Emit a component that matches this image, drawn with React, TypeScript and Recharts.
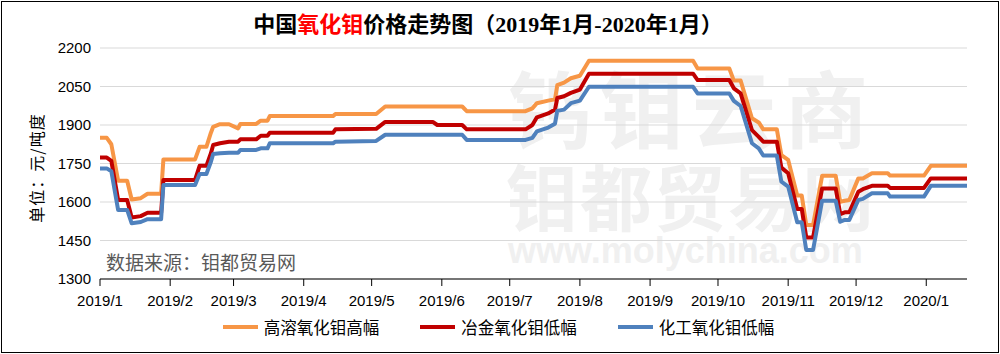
import React from "react";
import { LineChart, Line, XAxis, YAxis, CartesianGrid } from "recharts";

// change points (daily prices, yuan / ton-degree)
const dates = [
  "2019-01-01", "2019-01-04", "2019-01-06", "2019-01-09", "2019-01-13", "2019-01-15",
  "2019-01-19", "2019-01-22", "2019-01-28", "2019-01-29", "2019-02-12", "2019-02-14",
  "2019-02-17", "2019-02-19", "2019-02-20", "2019-02-23", "2019-02-27", "2019-03-03",
  "2019-03-04", "2019-03-11", "2019-03-13", "2019-03-16", "2019-03-17", "2019-04-14",
  "2019-04-15", "2019-05-03", "2019-05-07", "2019-05-28", "2019-05-30", "2019-06-10",
  "2019-06-12", "2019-07-08", "2019-07-11", "2019-07-13", "2019-07-18", "2019-07-21",
  "2019-07-22", "2019-07-25", "2019-07-28", "2019-08-01", "2019-08-05", "2019-09-20",
  "2019-09-22", "2019-10-06", "2019-10-08", "2019-10-11", "2019-10-16", "2019-10-19",
  "2019-10-21", "2019-10-27", "2019-10-29", "2019-11-01", "2019-11-05", "2019-11-07",
  "2019-11-09", "2019-11-12", "2019-11-16", "2019-11-22", "2019-11-24", "2019-11-26",
  "2019-11-28", "2019-12-02", "2019-12-04", "2019-12-08", "2019-12-15", "2019-12-16",
  "2019-12-31", "2020-01-03", "2020-01-19",
];

const highSol = [
  1850, 1850, 1825, 1683, 1683, 1610, 1615, 1632, 1632, 1766, 1766, 1815,
  1815, 1870, 1893, 1903, 1903, 1887, 1904, 1904, 1917, 1917, 1935, 1935,
  1943, 1943, 1972, 1972, 1972, 1972, 1954, 1954, 1965, 1985, 1995, 2000,
  2055, 2065, 2082, 2092, 2150, 2150, 2120, 2120, 2073, 2073, 1926, 1910,
  1883, 1883, 1783, 1764, 1625, 1625, 1510, 1510, 1702, 1702, 1601, 1605,
  1608, 1692, 1692, 1712, 1712, 1703, 1703, 1741, 1741,
];

const metallurgical = [
  1773, 1773, 1760, 1608, 1608, 1540, 1545, 1558, 1558, 1686, 1686, 1741,
  1741, 1790, 1822, 1829, 1835, 1835, 1844, 1844, 1858, 1858, 1870, 1870,
  1883, 1885, 1912, 1912, 1900, 1900, 1883, 1883, 1900, 1930, 1945, 1960,
  2005, 2012, 2025, 2038, 2100, 2100, 2075, 2075, 2043, 2023, 1880, 1854,
  1835, 1835, 1734, 1712, 1573, 1573, 1462, 1462, 1653, 1653, 1553, 1560,
  1560, 1640, 1650, 1663, 1663, 1655, 1655, 1692, 1692,
];

const chemical = [
  1731, 1731, 1720, 1569, 1569, 1517, 1522, 1533, 1533, 1666, 1666, 1709,
  1709, 1757, 1787, 1790, 1792, 1792, 1803, 1803, 1809, 1809, 1829, 1829,
  1835, 1838, 1862, 1862, 1862, 1862, 1842, 1842, 1850, 1875, 1890, 1905,
  1955, 1960, 1985, 1995, 2049, 2049, 2023, 2023, 1994, 1974, 1829, 1809,
  1781, 1781, 1679, 1660, 1521, 1521, 1413, 1413, 1605, 1605, 1523, 1530,
  1530, 1608, 1612, 1634, 1634, 1621, 1621, 1663, 1663,
];

const monthTicks = [
  "2019-01-01", "2019-02-01", "2019-03-01", "2019-04-01", "2019-05-01", "2019-06-01",
  "2019-07-01", "2019-08-01", "2019-09-01", "2019-10-01", "2019-11-01", "2019-12-01",
  "2020-01-01",
];
const yTicks = [1300, 1450, 1600, 1750, 1900, 2050, 2200];
const xStart = "2019-01-01";
const xEnd = "2020-01-19";

const series = [
  { key: "high", name: "高溶氧化钼高幅", color: "#F79646", values: highSol },
  { key: "met", name: "冶金氧化钼低幅", color: "#C00000", values: metallurgical },
  { key: "chem", name: "化工氧化钼低幅", color: "#4F81BD", values: chemical },
];

const toTime = (s: string) => {
  const [y, m, d] = s.split("-").map(Number);
  return Date.UTC(y, m - 1, d);
};

const data = dates.map((d, i) => {
  const row: Record<string, number> = { t: toTime(d) };
  series.forEach((s) => (row[s.key] = s.values[i]));
  return row;
});

const fmtMonth = (v: number) => {
  const d = new Date(v);
  return `${d.getUTCFullYear()}/${d.getUTCMonth() + 1}`;
};

const cjk = '"Noto Sans CJK SC", "Noto Sans", sans-serif';
const latin = '"Liberation Sans", Arial, sans-serif';

const wm: React.CSSProperties = {
  position: "absolute",
  fontWeight: 700,
  lineHeight: 1,
  color: "#f0f0f0",
  whiteSpace: "nowrap",
};

export default function App() {
  return (
    <div
      style={{
        position: "absolute",
        left: 0,
        top: 0,
        width: 1000,
        height: 354,
        background: "#fff",
        overflow: "hidden",
      }}
    >
      {/* watermark */}
      <div style={{ ...wm, left: 508, top: 64, fontFamily: cjk, fontSize: 84, letterSpacing: 8 }}>
        钨钼云商
      </div>
      <div style={{ ...wm, left: 506, top: 158, fontFamily: cjk, fontSize: 72, letterSpacing: 2 }}>
        钼都贸易网
      </div>
      <div style={{ ...wm, left: 508, top: 233, fontFamily: latin, fontSize: 36, letterSpacing: 0 }}>
        www.molychina.com
      </div>

      <div style={{ position: "absolute", left: 0, top: 0 }}>
        <LineChart
          width={1000}
          height={354}
          data={data}
          margin={{ top: 48, right: 33, bottom: 0, left: 40 }}
        >
          <CartesianGrid vertical={false} stroke="#d9d9d9" strokeWidth={1} />
          <XAxis
            dataKey="t"
            type="number"
            domain={[toTime(xStart), toTime(xEnd)]}
            ticks={monthTicks.map(toTime)}
            tickFormatter={fmtMonth}
            height={75}
            axisLine={{ stroke: "#000" }}
            tickLine={{ stroke: "#000" }}
            tickSize={7}
            tickMargin={9}
            tick={{ fontSize: 15, fill: "#000", fontFamily: latin }}
            interval={0}
          />
          <YAxis
            domain={[1300, 2200]}
            ticks={yTicks}
            width={60}
            axisLine={false}
            tickLine={false}
            tickSize={0}
            tickMargin={9}
            tick={{ fontSize: 15, fill: "#000", fontFamily: latin }}
          />
          {series.map((s) => (
            <Line
              key={s.key}
              dataKey={s.key}
              name={s.name}
              type="linear"
              stroke={s.color}
              strokeWidth={4}
              strokeLinejoin="round"
              dot={false}
              activeDot={false}
              isAnimationActive={false}
            />
          ))}
        </LineChart>
      </div>

      {/* title */}
      <div
        style={{
          position: "absolute",
          left: 0,
          width: 976,
          top: 14,
          textAlign: "center",
          fontFamily: `"Liberation Serif", ${cjk}`,
          fontWeight: 700,
          fontSize: 22,
          lineHeight: 1,
          color: "#000",
          whiteSpace: "nowrap",
        }}
      >
        中国<span style={{ color: "#FF0000" }}>氧化钼</span>价格走势图（2019年1月-2020年1月）
      </div>

      {/* unit label */}
      <div
        style={{
          position: "absolute",
          left: 36,
          top: 168,
          transform: "translate(-50%, -50%) rotate(-90deg)",
          fontFamily: cjk,
          fontSize: 16,
          letterSpacing: 1,
          lineHeight: 1,
          color: "#000",
          whiteSpace: "nowrap",
        }}
      >
        单位：元/吨度
      </div>

      {/* source */}
      <div
        style={{
          position: "absolute",
          left: 106,
          top: 252,
          fontFamily: cjk,
          fontSize: 19,
          lineHeight: 1,
          color: "#595959",
          whiteSpace: "nowrap",
        }}
      >
        数据来源：钼都贸易网
      </div>

      {/* legend */}
      <div
        style={{
          position: "absolute",
          left: 0,
          width: 997,
          top: 319,
          display: "flex",
          justifyContent: "center",
          gap: 41,
          fontFamily: cjk,
          fontSize: 16.5,
          lineHeight: 1,
          color: "#000",
        }}
      >
        {series.map((s) => (
          <div key={s.key} style={{ display: "flex", alignItems: "center" }}>
            <div style={{ width: 35, height: 4, background: s.color, marginRight: 6 }} />
            <span>{s.name}</span>
          </div>
        ))}
      </div>

      {/* frame */}
      <div
        style={{
          position: "absolute",
          left: 1,
          top: 1,
          width: 996,
          height: 350,
          border: "1px solid #000",
          pointerEvents: "none",
        }}
      />
    </div>
  );
}
